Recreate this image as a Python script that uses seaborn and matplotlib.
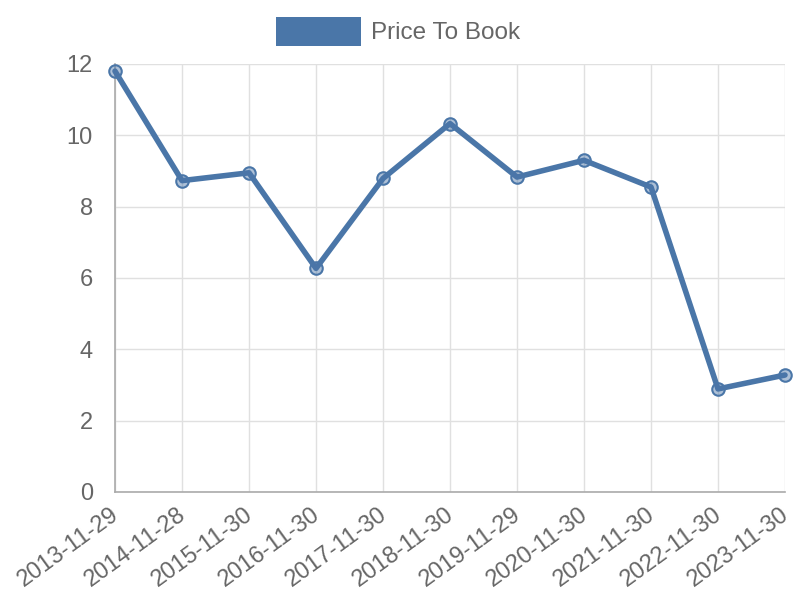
import matplotlib
matplotlib.use("Agg")
import matplotlib.pyplot as plt
import seaborn as sns
import pandas as pd
from matplotlib.patches import Rectangle

dates = ["2013-11-29", "2014-11-28", "2015-11-30", "2016-11-30", "2017-11-30",
         "2018-11-30", "2019-11-29", "2020-11-30", "2021-11-30", "2022-11-30", "2023-11-30"]
price_to_book = [11.80, 8.73, 8.95, 6.27, 8.79, 10.33, 8.83, 9.30, 8.55, 2.89, 3.28]
y_ticks = [0, 2, 4, 6, 8, 10, 12]
series_name = "Price To Book"

sns.set_style("white")
plt.rcParams['font.family'] = ['Liberation Sans', 'DejaVu Sans']

df = pd.DataFrame({"date": dates, "value": price_to_book, "idx": range(len(dates))})

color = "#4a76a8"
fig = plt.figure(figsize=(8, 6), dpi=100)
ax = fig.add_axes([115/800, 108/600, 670/800, 428/600])

sns.lineplot(data=df, x="idx", y="value", ax=ax, color=color, linewidth=4,
             marker="o", markersize=9, markerfacecolor=(0.29, 0.46, 0.66, 0.45),
             markeredgecolor=color, markeredgewidth=1.5, clip_on=False, zorder=3)

ax.set_xlim(0, len(dates) - 1)
ax.set_ylim(0, 12)
ax.set_xticks(range(len(dates)))
ax.set_xticklabels(dates, rotation=36, ha="right", va="center_baseline",
                   rotation_mode="anchor")
ax.set_yticks(y_ticks)
ax.set_xlabel("")
ax.set_ylabel("")
ax.grid(True, color="#e0e0e0", linewidth=1)
ax.set_axisbelow(True)
for s in ["top", "right"]:
    ax.spines[s].set_visible(False)
for s in ["left", "bottom"]:
    ax.spines[s].set_color("#aaaaaa")
    ax.spines[s].set_linewidth(1.2)
ax.tick_params(axis="x", colors="#e0e0e0", labelcolor="#666666", labelsize=17,
               length=13, width=1, pad=0)
ax.tick_params(axis="y", colors="#e0e0e0", labelcolor="#666666", labelsize=17,
               length=14.4, width=1, pad=1.5)
ax.xaxis.get_major_ticks()[0].tick1line.set_color("#aaaaaa")
ax.yaxis.get_major_ticks()[0].tick1line.set_color("#aaaaaa")

fig.patches.append(Rectangle((276/800, 1 - 46/600), 85/800, 29/600,
                             transform=fig.transFigure, facecolor=color,
                             edgecolor="none"))
fig.text(371/800, 1 - 33/600, series_name, fontsize=17.5, color="#666666",
         va="center", ha="left")

fig.savefig("out.png", dpi=100)
